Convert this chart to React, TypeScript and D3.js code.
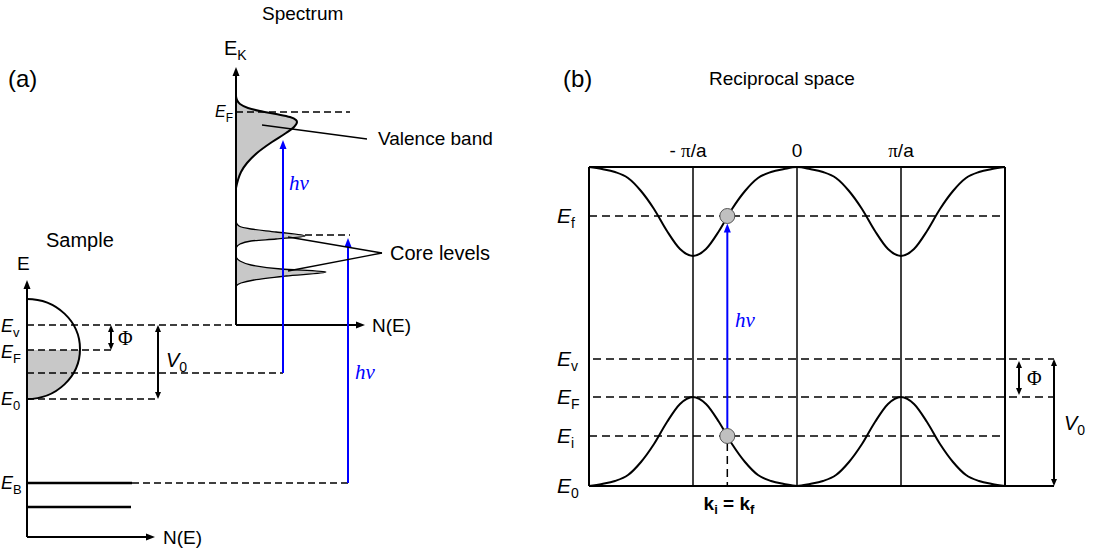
import React from "react";
import * as d3 from "d3";

const FONT = "'Liberation Sans', Arial, Helvetica, sans-serif";
const SERIF = "'Liberation Serif', 'DejaVu Serif', 'Times New Roman', serif";
const BLUE = "#0000ff";
const GRAY = "#c8c8c8";

// ---------------- Panel (a) data ----------------
// energies on a common panel-(a) energy scale (arbitrary units)
const sampleLevelNames = ["Ev", "EF", "Ehv", "E0", "EB", "EB2"];
const sampleLevelValues = [212, 187, 164, 138, 54, 30];
const sampleBandTop = 238;
const sampleBandBottom = 138;
const sampleBandWidth = 53;
const sampleAxisTop = 257;
const sampleAxisRight = 128;

const spectrumFermi = 425;
const spectrumAxisTop = 470;
const spectrumAxisRight = 129;

// valence band in the spectrum (intensity, kinetic energy)
const vbIntensity = [0, 1, 4, 12, 24, 40, 54, 60, 61, 58, 50, 36, 21, 11, 5, 2, 0];
const vbEnergy = [441, 437, 433, 429, 426, 423, 420, 417, 415, 410, 404, 395, 384, 374, 365, 357, 349];

// core level peaks in the spectrum
const core1Intensity = [0, 3, 15, 40, 69, 40, 15, 4, 0];
const core1Energy = [315, 311, 308, 305, 301, 298, 296, 293, 289];
const core2Intensity = [0, 4, 15, 45, 90, 50, 18, 5, 0];
const core2Energy = [280, 276, 272, 268, 265, 261, 257, 254, 251];

// photon arrows: position (spectrum intensity units), start and end energies
const hvArrowX = [47, 112];
const hvArrowFrom = [164, 54];
const hvArrowTo = [397, 299];

// ---------------- Panel (b) data ----------------
const kValues = [
  -2, -1.875, -1.75, -1.625, -1.5, -1.375, -1.25, -1.125, -1, -0.875, -0.75, -0.625, -0.5,
  -0.375, -0.25, -0.125, 0, 0.125, 0.25, 0.375, 0.5, 0.625, 0.75, 0.875, 1, 1.125, 1.25,
  1.375, 1.5, 1.625, 1.75, 1.875, 2,
];
const lowerBand = [
  0, 2, 5, 11, 24, 42, 64, 82, 89, 82, 64, 42, 24, 11, 5, 2, 0, 2, 5, 11, 24, 42, 64, 82, 89,
  82, 64, 42, 24, 11, 5, 2, 0,
];
const upperBand = [
  319, 317, 314, 308, 295, 277, 255, 237, 230, 237, 255, 277, 295, 308, 314, 317, 319, 317,
  314, 308, 295, 277, 255, 237, 230, 237, 255, 277, 295, 308, 314, 317, 319,
];
const bLevelNames = ["f", "v", "F", "i", "0"];
const bLevelValues = [270, 127, 89, 50, 0];
const bTop = 319;
const kTicks = [-1, 0, 1];
const kTickLabels = [["- ", "π", "/a"], ["", "", "0"], ["", "π", "/a"]];
const kTransition = -0.67;

type Dir = "up" | "down" | "right";
function head(x: number, y: number, dir: Dir, len = 9, hw = 3.5) {
  if (dir === "up") return `${x},${y} ${x - hw},${y + len} ${x + hw},${y + len}`;
  if (dir === "down") return `${x},${y} ${x - hw},${y - len} ${x + hw},${y - len}`;
  return `${x},${y} ${x - len},${y - hw} ${x - len},${y + hw}`;
}

export default function App() {
  // panel (a) scales
  const yA = d3.scaleLinear().domain([0, 470]).range([537, 67]);
  const xA = d3.scaleLinear().domain([0, 128]).range([27, 155]);
  const xS = d3.scaleLinear().domain([0, 129]).range([236, 365]);

  // panel (b) scales
  const xB = d3.scaleLinear().domain([-2, 2]).range([589, 1005]);
  const yB = d3.scaleLinear().domain([0, 319]).range([486, 167]);

  const lvl = (n: string) => sampleLevelValues[sampleLevelNames.indexOf(n)];

  const peakArea = d3
    .area<[number, number]>()
    .y((d) => yA(d[1]))
    .x0(xS(0))
    .x1((d) => xS(d[0]))
    .curve(d3.curveMonotoneY);
  const peakLine = d3
    .line<[number, number]>()
    .y((d) => yA(d[1]))
    .x((d) => xS(d[0]))
    .curve(d3.curveMonotoneY);

  const vb = vbIntensity.map((n, i) => [n, vbEnergy[i]] as [number, number]);
  const c1 = core1Intensity.map((n, i) => [n, core1Energy[i]] as [number, number]);
  const c2 = core2Intensity.map((n, i) => [n, core2Energy[i]] as [number, number]);

  // half-disc sample DOS
  const cx = xA(0);
  const cy = yA((sampleBandTop + sampleBandBottom) / 2);
  const rx = xA(sampleBandWidth) - xA(0);
  const ry = yA(sampleBandBottom) - cy;
  const yTop = yA(sampleBandTop);
  const yBot = yA(sampleBandBottom);
  const yEF = yA(lvl("EF"));
  const xEF = cx + rx * Math.sqrt(Math.max(0, 1 - ((yEF - cy) / ry) ** 2));
  const discPath = `M${cx},${yTop} A${rx},${ry} 0 0 1 ${cx},${yBot}`;
  const fillPath = `M${cx},${yEF} L${xEF},${yEF} A${rx},${ry} 0 0 1 ${cx},${yBot} Z`;

  const bandLine = d3
    .line<number>()
    .x((_, i) => xB(kValues[i]))
    .y((d) => yB(d))
    .curve(d3.curveMonotoneX);

  const dashA = "7,4";
  const dashB = "8,5";

  const yEv = yA(lvl("Ev"));
  const yE0 = yA(lvl("E0"));
  const yHv = yA(lvl("Ehv"));
  const yEB = yA(lvl("EB"));
  const yEB2 = yA(lvl("EB2"));

  const bY = (n: string) => yB(bLevelValues[bLevelNames.indexOf(n)]);
  const kx = xB(kTransition);

  const subLabel = (
    x: number,
    y: number,
    main: string,
    sub: string,
    anchor: "start" | "end" | "middle",
    size: number,
    italic = true,
    subSize = 14,
    key?: string
  ) => (
    <text
      key={key}
      x={x}
      y={y}
      textAnchor={anchor}
      fontFamily={FONT}
      fontSize={size}
      fontStyle={italic ? "italic" : "normal"}
      fill="#000"
    >
      {main}
      <tspan fontStyle="normal" fontSize={subSize} dy={5}>
        {sub}
      </tspan>
    </text>
  );

  return (
    <svg
      width={1104}
      height={552}
      style={{ position: "absolute", left: 0, top: 0, background: "#fff" }}
      fontFamily={FONT}
    >
      {/* ================= Panel (a) ================= */}
      <text x={8} y={87} fontSize={24}>(a)</text>
      <text x={262} y={20} fontSize={19}>Spectrum</text>
      {subLabel(224, 55, "E", "K", "start", 20, false, 14)}
      <text x={46} y={247} fontSize={20}>Sample</text>
      <text x={17} y={270} fontSize={19}>E</text>

      {/* sample DOS */}
      <path d={fillPath} fill={GRAY} stroke="none" />
      <path d={discPath} fill="none" stroke="#000" strokeWidth={2} />

      {/* spectrum peaks */}
      <path d={peakArea(vb) || ""} fill={GRAY} />
      <path d={peakLine(vb) || ""} fill="none" stroke="#000" strokeWidth={2} />
      <path d={peakArea(c1) || ""} fill={GRAY} />
      <path d={peakLine(c1) || ""} fill="none" stroke="#000" strokeWidth={1.3} />
      <path d={peakArea(c2) || ""} fill={GRAY} />
      <path d={peakLine(c2) || ""} fill="none" stroke="#000" strokeWidth={1.3} />

      {/* dashed levels */}
      <g stroke="#000" strokeWidth={1.5} strokeDasharray={dashA} fill="none">
        <line x1={xA(0)} x2={xS(0)} y1={yEv} y2={yEv} />
        <line x1={xA(0)} x2={xA(84)} y1={yEF} y2={yEF} />
        <line x1={xA(0)} x2={xS(hvArrowX[0])} y1={yHv} y2={yHv} />
        <line x1={xA(0)} x2={xA(131)} y1={yE0} y2={yE0} />
        <line x1={xA(105)} x2={xS(hvArrowX[1])} y1={yEB} y2={yEB} />
        <line x1={xS(0)} x2={xS(114)} y1={yA(spectrumFermi)} y2={yA(spectrumFermi)} />
        <line x1={xS(69)} x2={xS(114)} y1={yA(302)} y2={yA(302)} />
      </g>

      {/* core level solid lines */}
      <line x1={xA(0)} x2={xA(105)} y1={yEB} y2={yEB} stroke="#000" strokeWidth={2.5} />
      <line x1={xA(0)} x2={xA(104)} y1={yEB2} y2={yEB2} stroke="#000" strokeWidth={2.5} />

      {/* sample axes */}
      <line x1={xA(0)} x2={xA(0)} y1={yA(0)} y2={yA(sampleAxisTop) + 8} stroke="#000" strokeWidth={2} />
      <polygon points={head(xA(0), yA(sampleAxisTop), "up")} fill="#000" />
      <line x1={xA(0)} x2={xA(sampleAxisRight) - 8} y1={yA(0)} y2={yA(0)} stroke="#000" strokeWidth={2} />
      <polygon points={head(xA(sampleAxisRight), yA(0), "right")} fill="#000" />
      <text x={163} y={544} fontSize={19}>N(E)</text>

      {/* spectrum axes */}
      <line x1={xS(0)} x2={xS(0)} y1={yEv} y2={yA(spectrumAxisTop) + 8} stroke="#000" strokeWidth={2} />
      <polygon points={head(xS(0), yA(spectrumAxisTop), "up")} fill="#000" />
      <line x1={xS(0)} x2={xS(spectrumAxisRight) - 8} y1={yEv} y2={yEv} stroke="#000" strokeWidth={2} />
      <polygon points={head(xS(spectrumAxisRight), yEv, "right")} fill="#000" />
      <text x={372} y={332} fontSize={19}>N(E)</text>

      {/* Phi and V0 arrows (sample) */}
      <g stroke="#000" strokeWidth={2}>
        <line x1={xA(84)} x2={xA(84)} y1={yEv + 6} y2={yEF - 6} />
        <line x1={xA(131)} x2={xA(131)} y1={yEv + 6} y2={yE0 - 6} />
      </g>
      <polygon points={head(xA(84), yEv, "up", 7, 3)} fill="#000" />
      <polygon points={head(xA(84), yEF, "down", 7, 3)} fill="#000" />
      <polygon points={head(xA(131), yEv, "up", 7, 3)} fill="#000" />
      <polygon points={head(xA(131), yE0, "down", 7, 3)} fill="#000" />
      <text x={118} y={345} fontSize={20} fontFamily={SERIF}>Φ</text>
      {subLabel(166, 367, "V", "0", "start", 20, true, 14)}

      {/* sample level labels */}
      {subLabel(1, yEv + 7, "E", "v", "start", 18, true, 13)}
      {subLabel(1, yEF + 8, "E", "F", "start", 18, true, 13)}
      {subLabel(1, yE0 + 6, "E", "0", "start", 18, true, 13)}
      {subLabel(1, yEB + 6, "E", "B", "start", 18, true, 13)}
      {subLabel(233, yA(spectrumFermi) + 5, "E", "F", "end", 16, true, 12)}

      {/* photon arrows */}
      {hvArrowX.map((n, i) => (
        <g key={i}>
          <line
            x1={xS(n)}
            x2={xS(n)}
            y1={yA(hvArrowFrom[i])}
            y2={yA(hvArrowTo[i]) + 8}
            stroke={BLUE}
            strokeWidth={2}
          />
          <polygon points={head(xS(n), yA(hvArrowTo[i]), "up", 9, 3.5)} fill={BLUE} />
        </g>
      ))}
      <text x={289} y={190} fontSize={21} fontFamily={SERIF} fontStyle="italic" fill={BLUE}>hν</text>
      <text x={355} y={379} fontSize={21} fontFamily={SERIF} fontStyle="italic" fill={BLUE}>hν</text>

      {/* label pointer lines */}
      <g stroke="#000" strokeWidth={1.3}>
        <line x1={xS(26)} y1={yA(412)} x2={xS(131)} y2={yA(398)} />
        <line x1={xS(52)} y1={yA(300)} x2={xS(146)} y2={yA(284)} />
        <line x1={xS(52)} y1={yA(266)} x2={xS(146)} y2={yA(284)} />
      </g>
      <text x={378} y={145} fontSize={19}>Valence band</text>
      <text x={390} y={260} fontSize={20}>Core levels</text>

      {/* ================= Panel (b) ================= */}
      <text x={563} y={87} fontSize={24}>(b)</text>
      <text x={709} y={85} fontSize={19}>Reciprocal space</text>

      {kTicks.map((k, i) => (
        <text key={k} x={xB(k) - (k < 0 ? 5 : 0)} y={157} fontSize={19} textAnchor="middle">
          {kTickLabels[i][0]}
          {kTickLabels[i][1] && <tspan fontFamily={SERIF}>{kTickLabels[i][1]}</tspan>}
          {kTickLabels[i][2]}
        </text>
      ))}

      {/* dashed levels */}
      <g stroke="#000" strokeWidth={1.5} strokeDasharray={dashB}>
        <line x1={xB(-2)} x2={xB(2)} y1={bY("f")} y2={bY("f")} />
        <line x1={xB(-2) + 4} x2={1054} y1={bY("v")} y2={bY("v")} />
        <line x1={xB(-2) + 4} x2={1054} y1={bY("F")} y2={bY("F")} />
        <line x1={xB(-2)} x2={xB(2)} y1={bY("i")} y2={bY("i")} />
        <line x1={kx} x2={kx} y1={bY("i") + 7} y2={bY("0")} />
      </g>

      {/* box and zone lines */}
      <g stroke="#000" fill="none">
        <line x1={xB(-2)} x2={xB(2)} y1={yB(bTop)} y2={yB(bTop)} strokeWidth={2} />
        <line x1={xB(-2)} x2={1054} y1={yB(0)} y2={yB(0)} strokeWidth={2} />
        <line x1={xB(-2)} x2={xB(-2)} y1={yB(0)} y2={yB(bTop)} strokeWidth={2} />
        <line x1={xB(2)} x2={xB(2)} y1={yB(0)} y2={yB(bTop)} strokeWidth={2} />
        {kTicks.map((k) => (
          <line key={k} x1={xB(k)} x2={xB(k)} y1={yB(0)} y2={yB(bTop)} strokeWidth={1.5} />
        ))}
      </g>

      {/* bands */}
      <path d={bandLine(lowerBand) || ""} fill="none" stroke="#000" strokeWidth={2} />
      <path d={bandLine(upperBand) || ""} fill="none" stroke="#000" strokeWidth={2} />

      {/* transition */}
      <line x1={kx} x2={kx} y1={bY("i") - 7} y2={bY("f") + 16} stroke={BLUE} strokeWidth={2} />
      <polygon points={head(kx, bY("f") + 7.5, "up", 9, 3.5)} fill={BLUE} />
      <circle cx={kx} cy={bY("f")} r={7.5} fill="#c0c0c0" stroke="#555" strokeWidth={1} />
      <circle cx={kx} cy={bY("i")} r={7.5} fill="#c0c0c0" stroke="#555" strokeWidth={1} />
      <text x={735} y={327} fontSize={21} fontFamily={SERIF} fontStyle="italic" fill={BLUE}>hν</text>

      {/* Phi and V0 arrows (b) */}
      <g stroke="#000" strokeWidth={2}>
        <line x1={1019} x2={1019} y1={bY("v") + 6} y2={bY("F") - 6} />
        <line x1={1054} x2={1054} y1={bY("v") + 6} y2={bY("0") - 6} />
      </g>
      <polygon points={head(1019, bY("v") + 2, "up", 7, 3)} fill="#000" />
      <polygon points={head(1019, bY("F") - 2, "down", 7, 3)} fill="#000" />
      <polygon points={head(1054, bY("v"), "up", 7, 3)} fill="#000" />
      <polygon points={head(1054, bY("0"), "down", 7, 3)} fill="#000" />
      <text x={1027} y={385} fontSize={20} fontFamily={SERIF}>Φ</text>
      {subLabel(1064, 430, "V", "0", "start", 20, true, 14)}

      {/* level labels (b) */}
      {bLevelNames.map((n, i) =>
        subLabel(557, yB(bLevelValues[i]) + 7, "E", n, "start", 21, true, 14, n)
      )}

      {/* k_i = k_f */}
      <text x={729} y={510} textAnchor="middle" fontSize={19} fontWeight="bold">
        k<tspan fontSize={13} dy={4}>i</tspan>
        <tspan dy={-4}> = k</tspan>
        <tspan fontSize={13} dy={4}>f</tspan>
      </text>
    </svg>
  );
}
